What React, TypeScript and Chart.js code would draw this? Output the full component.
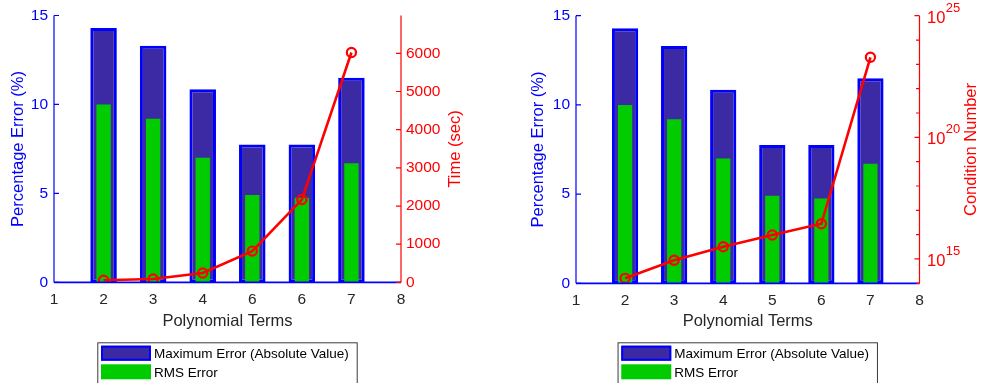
import React, { useEffect, useRef } from 'react';
import { Chart, registerables } from 'chart.js';

Chart.register(...registerables);

// ---- data ----
const terms = [2, 3, 4, 5, 6, 7];
const maxError = [14.3, 13.3, 10.85, 7.75, 7.75, 11.5];
const rmsError = [10.0, 9.2, 7.0, 4.91, 4.76, 6.7];
const timeSec = [55, 90, 245, 820, 2170, 6020];
const conditionNumber = [1.6e14, 8.9e14, 3.2e15, 9.7e15, 2.8e16, 1.95e23];

const xTickLabelsTime = ['1', '2', '3', '4', '6', '6', '7', '8'];
const xTickLabelsCond = ['1', '2', '3', '4', '5', '6', '7', '8'];
const errorTicks = [0, 5, 10, 15];
const timeTicks = [0, 1000, 2000, 3000, 4000, 5000, 6000];
const condDecades = [14, 15, 16, 17, 18, 19, 20, 21, 22, 23, 24, 25];
const condLabelDecades = [15, 20, 25];

const legendLabels = ['Maximum Error (Absolute Value)', 'RMS Error'];

// ---- styling ----
const FONT = '"Liberation Sans", Arial, Helvetica, sans-serif';
const BLUE = '#0000FF';
const RED = '#FF0000';
const BAR_FILL = '#3C2AA5';
const GREEN = '#00CC00';
const DARK = '#262626';
const W = 491;
const H = 383;

type Panel = {
  key: string;
  canvasLeft: number;
  plotLeft: number;
  plotRight: number;
  plotTop: number;
  plotBottom: number;
  leftTitlePad: number;
  rightTitleX: number;
  log: boolean;
};

const panels: Panel[] = [
  { key: 'time', canvasLeft: 0, plotLeft: 54, plotRight: 401, plotTop: 15.5, plotBottom: 282.4, leftTitlePad: 8.2, rightTitleX: 455, log: false },
  { key: 'cond', canvasLeft: 491, plotLeft: 85, plotRight: 428.5, plotTop: 15.7, plotBottom: 283.3, leftTitlePad: 37.2, rightTitleX: 480.7, log: true },
];

function axesPlugin(p: Panel) {
  return {
    id: 'axesDecor' + p.key,
    afterDatasetsDraw(chart: any) {
      const ctx = chart.ctx as CanvasRenderingContext2D;
      const { left, right, top, bottom } = chart.chartArea;
      const yS = chart.scales.y;
      const y2 = chart.scales.y2;
      ctx.save();

      // left (error) axis
      ctx.strokeStyle = BLUE;
      ctx.lineWidth = 1.2;
      ctx.beginPath();
      ctx.moveTo(left, top);
      ctx.lineTo(left, bottom);
      errorTicks.forEach((v) => {
        const y = yS.getPixelForValue(v);
        ctx.moveTo(left, y);
        ctx.lineTo(left + 5, y);
      });
      ctx.stroke();

      // bar baseline
      ctx.lineWidth = 1.8;
      ctx.beginPath();
      ctx.moveTo(left, yS.getPixelForValue(0));
      ctx.lineTo(right, yS.getPixelForValue(0));
      ctx.stroke();

      // right axis
      ctx.strokeStyle = RED;
      ctx.lineWidth = 1.2;
      ctx.beginPath();
      ctx.moveTo(right, top);
      ctx.lineTo(right, bottom);
      if (p.log) {
        condDecades.forEach((n) => {
          const y = y2.getPixelForValue(Math.pow(10, n));
          const len = condLabelDecades.includes(n) ? 5 : 3.5;
          ctx.moveTo(right, y);
          ctx.lineTo(right - len, y);
        });
      } else {
        timeTicks.forEach((v) => {
          const y = y2.getPixelForValue(v);
          ctx.moveTo(right, y);
          ctx.lineTo(right - 5, y);
        });
      }
      ctx.stroke();

      // log tick labels: 10 with raised exponent
      ctx.fillStyle = RED;
      if (p.log) {
        condLabelDecades.forEach((n) => {
          const y = y2.getPixelForValue(Math.pow(10, n));
          ctx.font = `16.5px ${FONT}`;
          ctx.textAlign = 'left';
          ctx.textBaseline = 'middle';
          const x0 = right + 7.5;
          ctx.fillText('10', x0, y + 2.5);
          const w = ctx.measureText('10').width;
          ctx.font = `13px ${FONT}`;
          ctx.fillText(String(n), x0 + w + 0.5, y - 7.5);
        });
      }

      // right axis title, reading bottom to top
      ctx.save();
      ctx.translate(p.rightTitleX, (top + bottom) / 2);
      ctx.rotate(-Math.PI / 2);
      ctx.font = `16.5px ${FONT}`;
      ctx.textAlign = 'center';
      ctx.textBaseline = 'middle';
      ctx.fillStyle = RED;
      ctx.fillText(p.log ? 'Condition Number' : 'Time (sec)', 0, 0);
      ctx.restore();

      // legend box
      const cx = (left + right) / 2;
      const bw = 260.4;
      const bx = cx - bw / 2;
      const by = 342.3;
      ctx.fillStyle = '#FFFFFF';
      ctx.fillRect(bx, by, bw, 60);
      ctx.strokeStyle = '#3A3A3A';
      ctx.lineWidth = 1;
      ctx.strokeRect(bx + 0.5, by + 0.5, bw - 1, 60);
      const rows = [
        { y: by + 3.4, fill: BAR_FILL, stroke: BLUE },
        { y: by + 22, fill: GREEN, stroke: null as string | null },
      ];
      rows.forEach((r, i) => {
        ctx.fillStyle = r.fill;
        ctx.fillRect(bx + 3.7, r.y, 50, 15);
        if (r.stroke) {
          ctx.strokeStyle = r.stroke;
          ctx.lineWidth = 2;
          ctx.strokeRect(bx + 4.7, r.y + 1, 48, 13);
        }
        ctx.fillStyle = '#000000';
        ctx.font = `13.5px ${FONT}`;
        ctx.textAlign = 'left';
        ctx.textBaseline = 'middle';
        ctx.fillText(legendLabels[i], bx + 56.7, r.y + 8.5);
      });

      ctx.restore();
    },
  };
}

function buildConfig(p: Panel): any {
  const xLabels = p.log ? xTickLabelsCond : xTickLabelsTime;
  const lineValues = p.log ? conditionNumber : timeSec;

  const rightScale = p.log
    ? {
        type: 'logarithmic',
        position: 'right',
        min: 1e14,
        max: 1e25,
        grid: { display: false, drawTicks: false },
        border: { display: false },
        ticks: { display: false },
        afterBuildTicks: (s: any) => {
          s.ticks = condDecades.map((n) => ({ value: Math.pow(10, n) }));
        },
        afterFit: (s: any) => {
          s.width = W - p.plotRight;
        },
      }
    : {
        type: 'linear',
        position: 'right',
        min: 0,
        max: 6990,
        grid: { display: false, drawTicks: false },
        border: { display: false },
        ticks: {
          color: RED,
          font: { family: FONT, size: 15.5 },
          padding: 5,
          callback: (v: number) => String(v),
        },
        afterBuildTicks: (s: any) => {
          s.ticks = timeTicks.map((v) => ({ value: v }));
        },
        afterFit: (s: any) => {
          s.width = W - p.plotRight;
        },
      };

  return {
    type: 'bar',
    data: {
      datasets: [
        {
          type: 'line',
          label: p.log ? 'Condition Number' : 'Time (sec)',
          data: terms.map((t, i) => ({ x: t, y: lineValues[i] })),
          yAxisID: 'y2',
          borderColor: RED,
          borderWidth: 2.6,
          pointRadius: 4.6,
          pointBorderWidth: 2.2,
          pointBorderColor: RED,
          pointBackgroundColor: 'rgba(0,0,0,0)',
          tension: 0,
          order: 0,
        },
        {
          label: legendLabels[1],
          data: terms.map((t, i) => ({ x: t, y: rmsError[i] })),
          yAxisID: 'y',
          backgroundColor: GREEN,
          borderWidth: 0,
          barPercentage: 0.29,
          categoryPercentage: 1,
          grouped: false,
          order: 1,
        },
        {
          label: legendLabels[0],
          data: terms.map((t, i) => ({ x: t, y: maxError[i] })),
          yAxisID: 'y',
          backgroundColor: BAR_FILL,
          borderColor: BLUE,
          borderWidth: 3,
          borderSkipped: false,
          barPercentage: 0.535,
          categoryPercentage: 1,
          grouped: false,
          order: 2,
        },
      ],
    },
    options: {
      responsive: false,
      animation: false,
      devicePixelRatio: 1,
      layout: { padding: { top: p.plotTop, left: 0, right: 0, bottom: 0 } },
      plugins: { legend: { display: false }, tooltip: { enabled: false } },
      scales: {
        x: {
          type: 'linear',
          min: 1,
          max: 8,
          offset: false,
          grid: { display: false, drawTicks: false, offset: false },
          border: { display: false },
          afterBuildTicks: (s: any) => {
            s.ticks = xLabels.map((_, i) => ({ value: i + 1 }));
          },
          afterFit: (s: any) => {
            s.height = H - p.plotBottom;
          },
          ticks: {
            color: DARK,
            font: { family: FONT, size: 15.5 },
            padding: 8.5,
            maxRotation: 0,
            autoSkip: false,
            callback: (v: number) => xLabels[Math.round(v) - 1],
          },
          title: {
            display: true,
            text: 'Polynomial Terms',
            color: DARK,
            font: { family: FONT, size: 16.5 },
            padding: { top: 0, bottom: 51.5 },
          },
        },
        y: {
          type: 'linear',
          position: 'left',
          min: 0,
          max: 15,
          grid: { display: false, drawTicks: false },
          border: { display: false },
          afterBuildTicks: (s: any) => {
            s.ticks = errorTicks.map((v) => ({ value: v }));
          },
          afterFit: (s: any) => {
            s.width = p.plotLeft;
          },
          ticks: { color: BLUE, font: { family: FONT, size: 15.5 }, padding: 6 },
          title: {
            display: true,
            text: 'Percentage Error (%)',
            color: BLUE,
            font: { family: FONT, size: 16.5 },
            padding: { top: p.leftTitlePad, bottom: 0 },
          },
        },
        y2: rightScale,
      },
    },
    plugins: [axesPlugin(p)],
  };
}

function PanelChart({ panel }: { panel: Panel }) {
  const ref = useRef<HTMLCanvasElement>(null);
  useEffect(() => {
    if (!ref.current) return;
    const chart = new Chart(ref.current, buildConfig(panel));
    return () => chart.destroy();
  }, [panel]);
  return (
    <canvas
      ref={ref}
      width={W}
      height={H}
      style={{ position: 'absolute', left: panel.canvasLeft, top: 0, width: W, height: H }}
    />
  );
}

export default function App() {
  return (
    <div style={{ position: 'absolute', left: 0, top: 0, width: 982, height: 383, background: '#FFFFFF', overflow: 'hidden' }}>
      {panels.map((p) => (
        <PanelChart key={p.key} panel={p} />
      ))}
    </div>
  );
}
